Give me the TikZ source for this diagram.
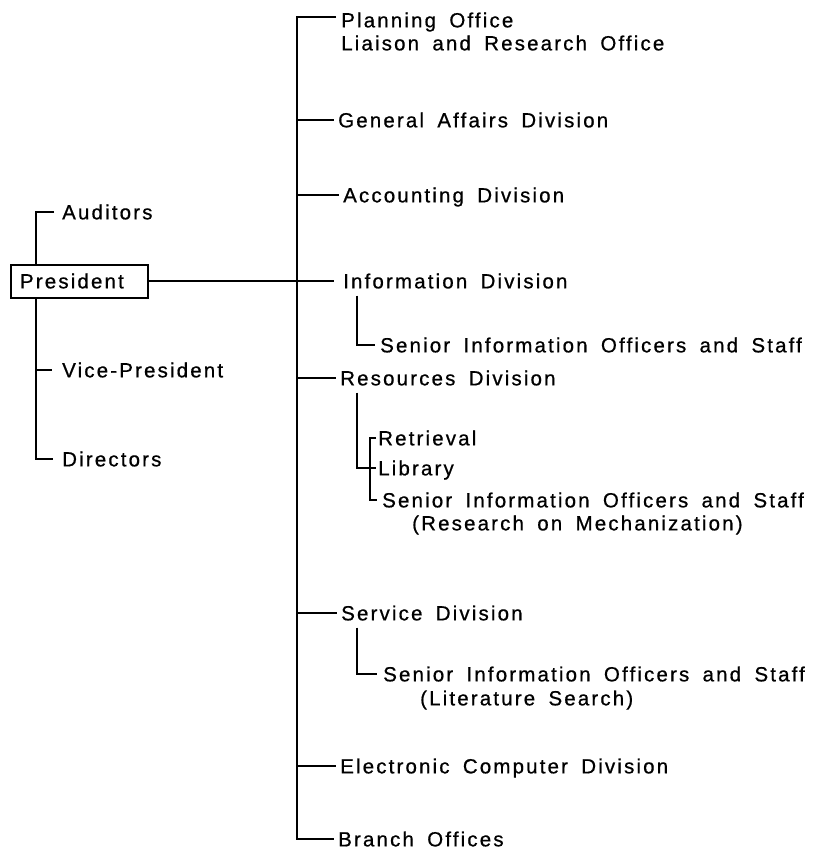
\documentclass[tikz,border=0pt]{standalone}
\usepackage{fontspec}
\setmainfont{Liberation Sans}[LetterSpace=10.5,WordSpace=1.7,FakeBold=0.7]
\begin{document}
\begin{tikzpicture}[x=1pt,y=-1pt,
  lbl/.style={anchor=west,inner sep=0pt,font=\fontsize{20.5}{24}\selectfont,text height=14.7pt,text depth=0pt},
  ln/.style={line width=2.1pt},
  thinln/.style={line width=1.2pt}]
\useasboundingbox[fill=white] (0,0) rectangle (818,850);
% ---------- left group ----------
\node[lbl] (aud) at (62,212) {Auditors};
\node[lbl] (vp)  at (62,370) {Vice-President};
\node[lbl] (dir) at (62,459) {Directors};
\coordinate (lv) at (36,0);
\draw[ln] ([xshift=-8pt]aud.west) -- (aud.west -| lv) -- (dir.west -| lv) -- ([xshift=-9pt]dir.west);
\draw[ln] (vp.west -| lv) -- ([xshift=-10pt]vp.west);
\node[draw,line width=2pt,fill=white,anchor=west,text width=119pt,inner xsep=9pt,inner ysep=0pt,
      minimum height=33pt,align=left,font=\fontsize{20.5}{24}\selectfont,text height=14.7pt,text depth=0pt]
      (pres) at (10,281) {President};
% ---------- right group ----------
\coordinate (tr) at (297,0);
\coordinate (s1) at (357,0);
\coordinate (s2) at (370,0);
\node[lbl] (plan) at (341,20) {Planning Office};
\node[lbl] (lia)  at (341,43) {Liaison and Research Office};
\node[lbl] (gen)  at (338,120) {General Affairs Division};
\node[lbl] (acc)  at (343,195) {Accounting Division};
\node[lbl] (info) at (343,281) {Information Division};
\node[lbl] (sio1) at (380,345) {Senior Information Officers and Staff};
\node[lbl] (res)  at (340,378) {Resources Division};
\node[lbl] (ret)  at (378,438) {Retrieval};
\node[lbl] (lib)  at (378,468) {Library};
\node[lbl] (sio2) at (382,500) {Senior Information Officers and Staff};
\node[lbl] (rom)  at (412,523) {(Research on Mechanization)};
\node[lbl] (serv) at (341,613) {Service Division};
\node[lbl] (sio3) at (383,674) {Senior Information Officers and Staff};
\node[lbl] (lit)  at (420,698) {(Literature Search)};
\node[lbl] (ecd)  at (340,766) {Electronic Computer Division};
\node[lbl] (bo)   at (338,839) {Branch Offices};
% trunk
\draw[ln] ([shift={(-5pt,3pt)}]plan.west) -- ([yshift=3pt]plan.west -| tr) -- (bo.west -| tr) -- ([xshift=-4pt]bo.west);
\foreach \n in {gen,acc,res,serv,ecd}
  \draw[ln] (\n.west -| tr) -- ([xshift=-4pt]\n.west);
\draw[thinln] (pres.east) -- ([xshift=-9pt]info.west);
% sub branches
\draw[ln] ([yshift=-7pt]info.south -| s1) |- ([xshift=-5pt]sio1.west);
\draw[ln] ([yshift=-7pt]res.south -| s1) |- ([xshift=-2pt]lib.west);
\draw[ln] ([xshift=-2pt]ret.west) -- (ret.west -| s2) -- (sio2.west -| s2) -- ([xshift=-5pt]sio2.west);
\draw[ln] ([yshift=-7pt]serv.south -| s1) |- ([xshift=-6pt]sio3.west);
\end{tikzpicture}
\end{document}
